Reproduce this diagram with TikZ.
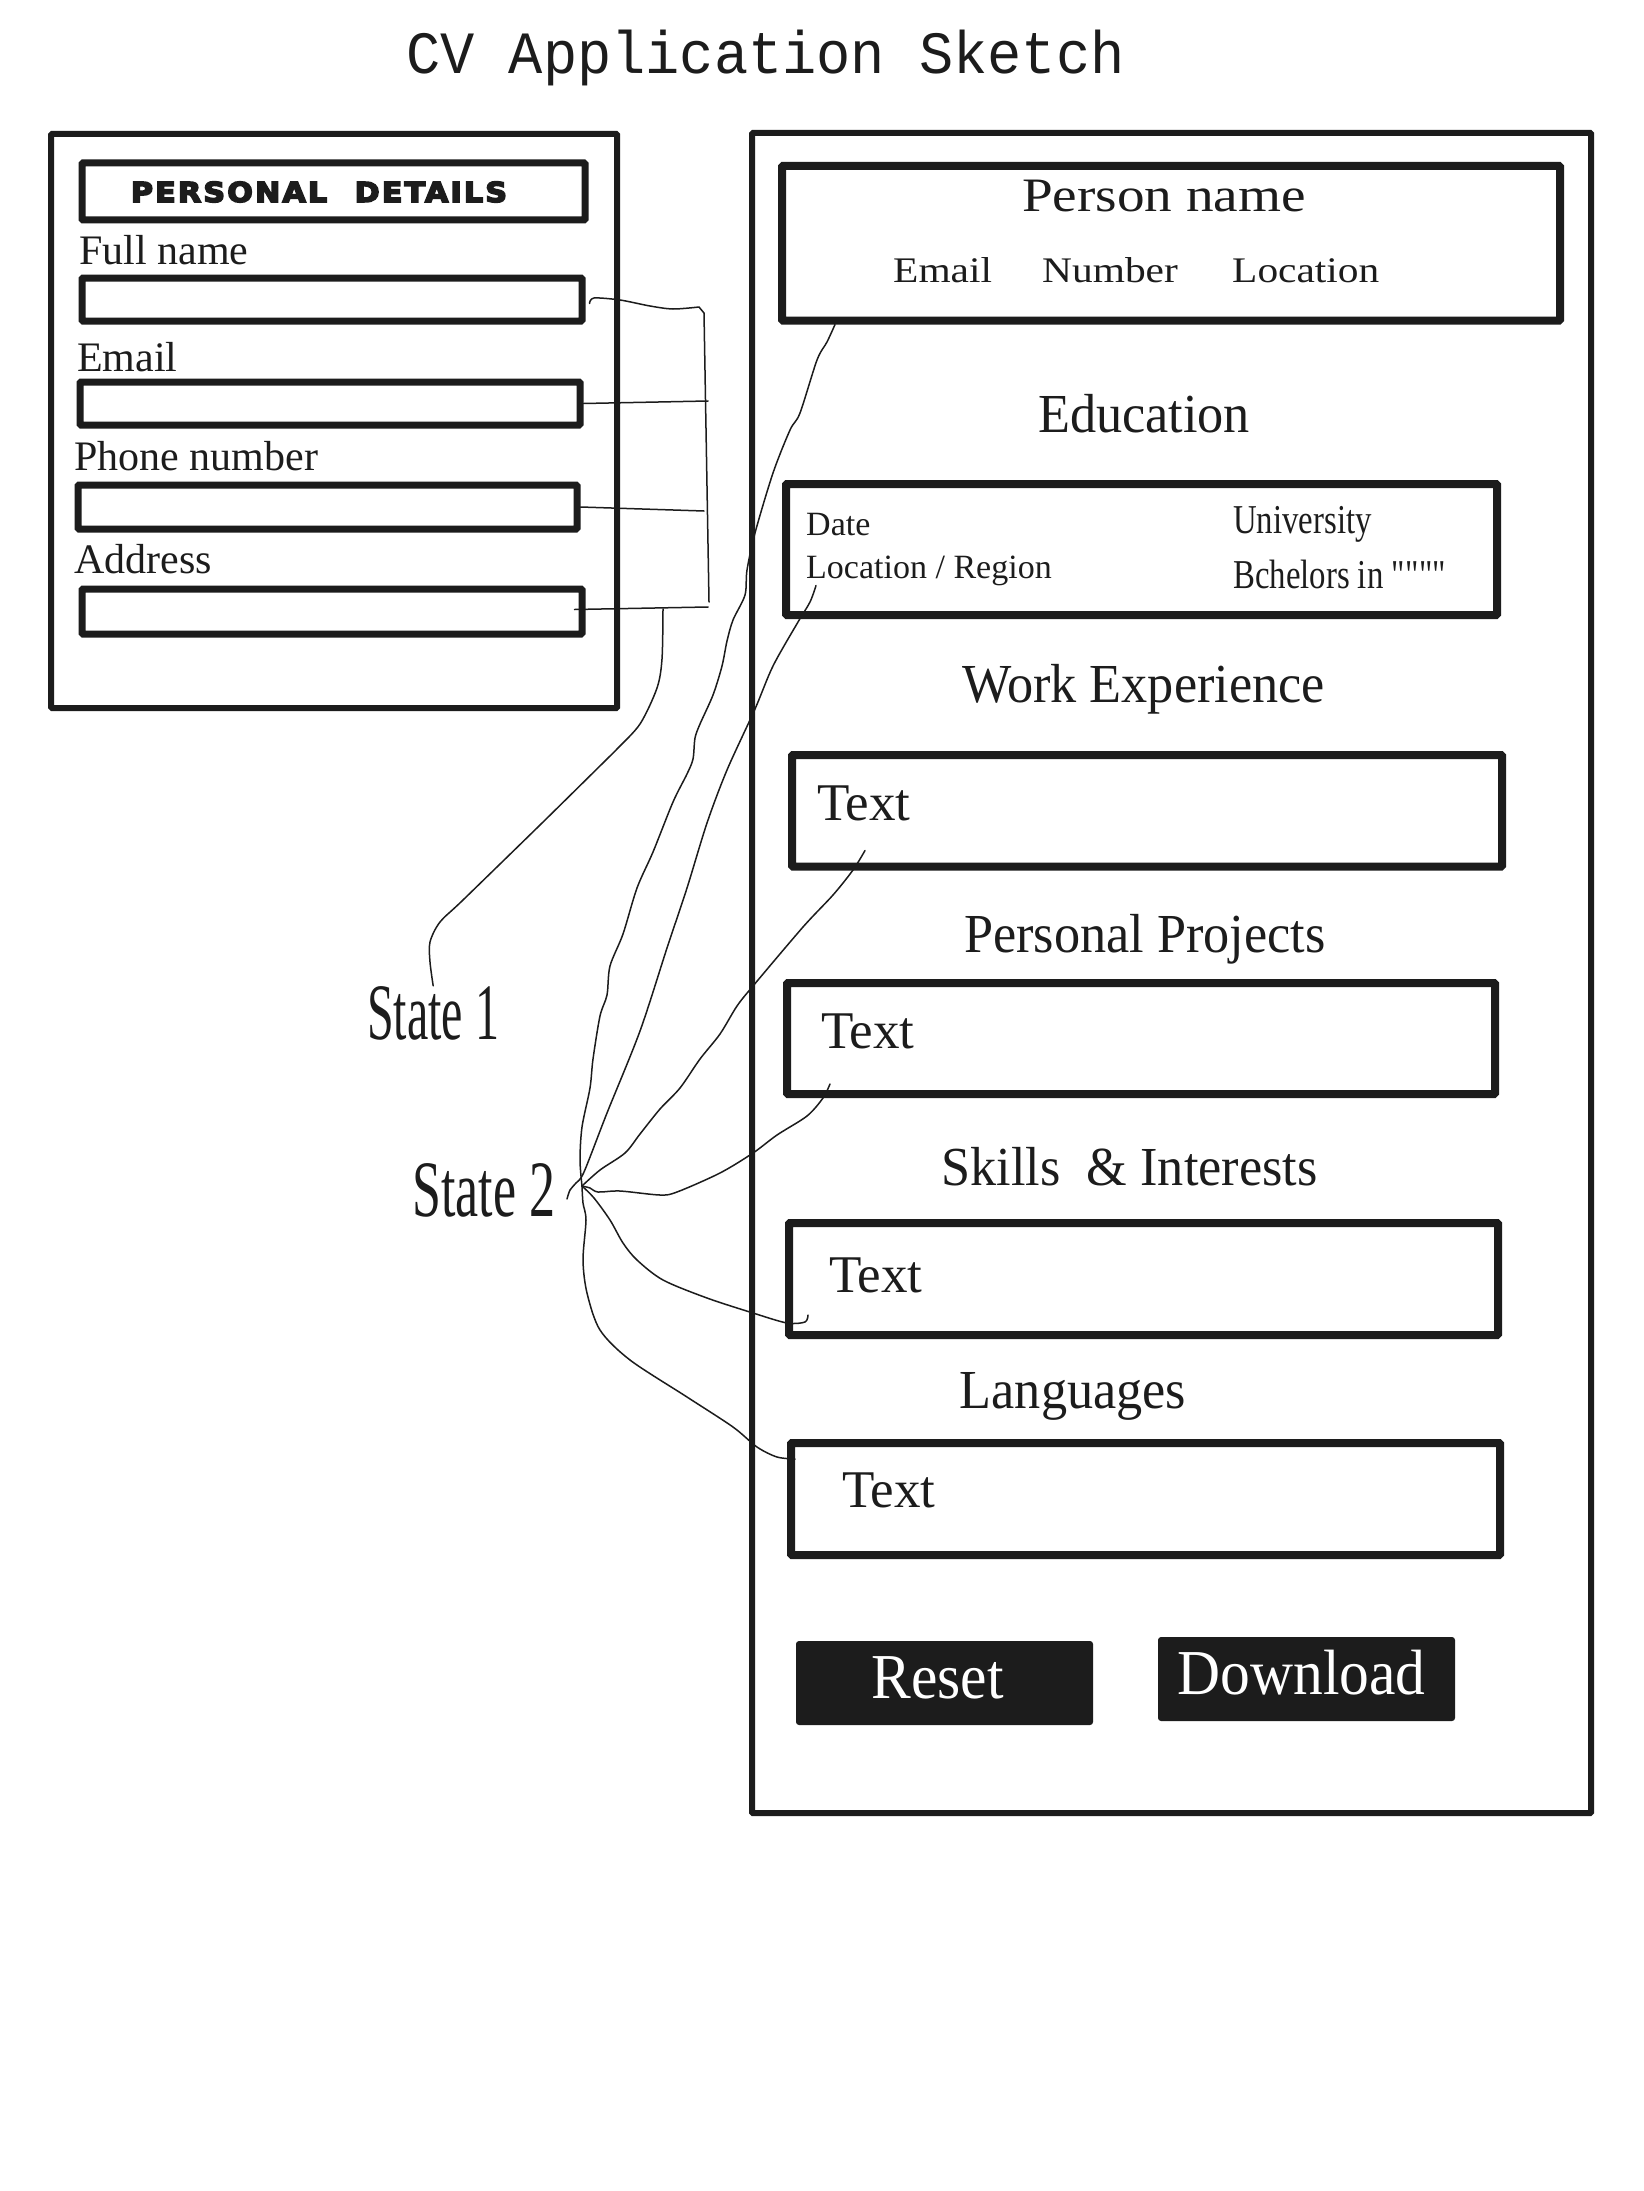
\documentclass[tikz,border=0pt]{standalone}
\usepackage{fontspec}
\setmainfont{Liberation Serif}
\newfontfamily\titlefont{Liberation Mono}[FakeStretch=0.95]
\newfontfamily\blockfont{DejaVu Sans Bold}[FakeStretch=1.1,LetterSpace=8,FakeBold=6]
\newfontfamily\widefont{Liberation Serif}[FakeStretch=1.15]
\newfontfamily\headfont{Liberation Serif}[FakeStretch=0.95]
\newfontfamily\narrowfont{Liberation Serif}[FakeStretch=0.8]
\newfontfamily\statefont{Liberation Serif}[FakeStretch=0.6]
\newfontfamily\statewide{Liberation Serif}[FakeStretch=0.65]
\newfontfamily\btnfont{Liberation Serif}[FakeStretch=0.93]
\definecolor{ink}{HTML}{1C1C1C}
\tikzset{
  panel/.style={draw=ink, line width=6pt, inner sep=0pt, rounded corners=1pt},
  field/.style={draw=ink, line width=7pt, inner sep=0pt, rounded corners=1pt},
  section/.style={draw=ink, line width=8pt, inner sep=0pt, rounded corners=1pt},
  lbl/.style={inner sep=0pt, anchor=base west, text=ink},
  formlbl/.style={lbl, font=\fontsize{42}{48}\selectfont},
  contact/.style={lbl, font=\widefont\fontsize{36}{40}\selectfont},
  heading/.style={inner sep=0pt, anchor=base, text=ink, font=\headfont\fontsize{55}{60}\selectfont},
  boxtext/.style={lbl, font=\fontsize{53}{60}\selectfont},
  statelbl/.style={lbl, font=\statefont\fontsize{80}{90}\selectfont},
  button/.style={fill=ink, text=white, rounded corners=3pt, inner sep=0pt,
    minimum width=297pt, minimum height=84pt, text height=44pt, text depth=14pt,
    font=\btnfont\fontsize{64}{70}\selectfont},
  wire/.style={draw=ink, line width=1.5pt, line cap=round, line join=round},
}
\begin{document}
\begin{tikzpicture}[x=1pt,y=-1pt]
\fill[white] (0,0) rectangle (1643,2191);
\useasboundingbox (0,0) rectangle (1643,2191);

% title
\node[lbl, font=\titlefont\fontsize{60}{70}\selectfont] (title) at (406,74) {CV Application Sketch};

% personal details form
\node[panel, minimum width=566pt, minimum height=574pt] (form) at (334,421) {};
\node[field, minimum width=503pt, minimum height=57pt] (pdbox) at (333.5,191.5) {};
\node[inner sep=0pt, text=ink, font=\blockfont\fontsize{27.4}{30}\selectfont] (pdtitle) at (319,192) {PERSONAL\quad DETAILS};
\node[formlbl] (fnamelbl) at (79,265) {Full name};
\node[field, minimum width=500pt, minimum height=43pt] (fname) at (332,299.5) {};
\node[formlbl] (emaillbl) at (77,371) {Email};
\node[field, minimum width=500pt, minimum height=43pt] (email) at (330,403.5) {};
\node[formlbl] (phonelbl) at (74,470) {Phone number};
\node[field, minimum width=499pt, minimum height=44pt] (phone) at (327.5,507) {};
\node[formlbl] (addrlbl) at (74,573.5) {Address};
\node[field, minimum width=500pt, minimum height=45pt] (addr) at (332,611.5) {};

% cv preview
\node[panel, minimum width=839pt, minimum height=1680pt] (cv) at (1171.5,973) {};
\node[section, minimum width=778pt, minimum height=154.5pt] (pname) at (1171,243.25) {};
\node[inner sep=0pt, anchor=base, text=ink, font=\widefont\fontsize{48}{54}\selectfont] (pnametxt) at (1164,212) {Person name};
\node[contact] (pmail) at (893,282) {Email};
\node[contact] (pnum) at (1042,282) {Number};
\node[contact] (ploc) at (1232,282) {Location};

\node[heading] (eduhead) at (1144,432) {Education};
\node[section, minimum width=711pt, minimum height=131pt] (edu) at (1141.5,549.5) {};
\node[lbl, font=\fontsize{34}{40}\selectfont] (date) at (806,535) {Date};
\node[lbl, font=\fontsize{34}{40}\selectfont] (locreg) at (806,578) {Location / Region};
\node[lbl, font=\narrowfont\fontsize{41}{46}\selectfont] (uni) at (1233,533) {University};
\node[lbl, font=\narrowfont\fontsize{41}{46}\selectfont] (degree) at (1233,588) {Bchelors in \textquotedbl\kern-3pt\textquotedbl\kern-3pt\textquotedbl\kern-3pt\textquotedbl};

\node[heading] (workhead) at (1143.5,702) {Work Experience};
\node[section, minimum width=710pt, minimum height=111.5pt] (work) at (1147,810.75) {};
\node[boxtext] (worktxt) at (817,820) {Text};

\node[heading] (projhead) at (1145,952) {Personal Projects};
\node[section, minimum width=708pt, minimum height=111pt] (proj) at (1141,1038.5) {};
\node[boxtext] (projtxt) at (821,1048) {Text};

\node[heading] (skillhead) at (1129.5,1185) {Skills~~\& Interests};
\node[section, minimum width=709pt, minimum height=112pt] (skill) at (1143.5,1279) {};
\node[boxtext] (skilltxt) at (829,1292) {Text};

\node[heading] (langhead) at (1073,1408) {Languages};
\node[section, minimum width=709pt, minimum height=112pt] (lang) at (1145.5,1499) {};
\node[boxtext] (langtxt) at (842,1507) {Text};

\node[button] (reset) at (944.5,1683) {Reset\kern14pt};
\node[button] (download) at (1306.5,1679) {Download\kern10pt};

% states
\node[statelbl] (state1) at (367,1039) {State 1};
\node[statelbl, font=\statewide\fontsize{80}{90}\selectfont] (state2) at (412,1216) {State 2};

% connector ends
\coordinate (hub) at (582,1186);
\coordinate (fnameout) at ([shift={(4,4)}]fname.east);
\coordinate (brk) at (709,602);
\coordinate (emailend) at (708,401);
\coordinate (phoneend) at (704,511);
\coordinate (addrin) at ([shift={(-11,-2)}]addr.east);
\coordinate (addrend) at (708,607);
\coordinate (s1top) at (663,609);
\coordinate (pnameout) at ([shift={(57,0)}]pname.south west);
\coordinate (eduout) at ([xshift=10pt]locreg.south west);
\coordinate (eduhook) at (567,1199);
\coordinate (workout) at ([shift={(77,-20)}]work.south west);
\coordinate (projout) at ([shift={(47,-14)}]proj.south west);
\coordinate (skillout) at ([shift={(23,-24)}]skill.south west);
\coordinate (langout) at ([shift={(8,20)}]lang.north west);

% state 1: form fields
\draw[wire] plot[smooth] coordinates {(fnameout) (594,298) (620,300) (650,306) (673,309) (699,307)} -- (704,313) -- (brk);
\draw[wire] (email.east) -- (emailend);
\draw[wire] (phone.east) -- (phoneend);
\draw[wire] (addrin) -- (addrend);
\draw[wire] plot[smooth] coordinates {(s1top) (662,659) (657,688) (640,724) (617,749) (607,759) (540,825) (463,900) (440,922) (430,942) (430,962) (state1.north)};

% state 2: cv sections
\draw[wire] plot[smooth] coordinates {(pnameout) (827,342) (817,360) (800,413) (790,430) (773,473) (755,533) (747,570) (745,595) (733,620) (727,641) (722,666) (713,695) (700,724) (695,738) (693,759) (687,774) (673,802) (653,852) (637,888) (623,934) (610,966) (607,995) (600,1016) (593,1059) (590,1088) (582,1127) (580,1160) (hub)};
\draw[wire] plot[smooth] coordinates {(eduout) (810,602) (798,622) (773,666) (755,709) (727,770) (707,823) (687,888) (667,948) (640,1031) (607,1113) (584,1172) (576,1183) (570,1190) (eduhook)};
\draw[wire] plot[smooth] coordinates {(workout) (853,870) (833,895) (803,927) (753,986) (737,1006) (720,1034) (700,1059) (680,1088) (660,1109) (640,1134) (625,1153) (600,1170) (hub)};
\draw[wire] plot[smooth] coordinates {(projout) (823,1098) (807,1116) (777,1135) (753,1153) (720,1173) (677,1192) (660,1195) (620,1191) (598,1192) (590,1188) (hub)};
\draw[wire] plot[smooth] coordinates {(skillout) (805,1322) (787,1323) (753,1313) (707,1298) (663,1280) (637,1260) (623,1243) (610,1220) (594,1198) (hub)};
\draw[wire] plot[smooth] coordinates {(langout) (777,1457) (757,1447) (733,1427) (687,1397) (630,1360) (600,1330) (587,1293) (583,1260) (586,1220) (583,1203) (hub)};
\end{tikzpicture}
\end{document}
